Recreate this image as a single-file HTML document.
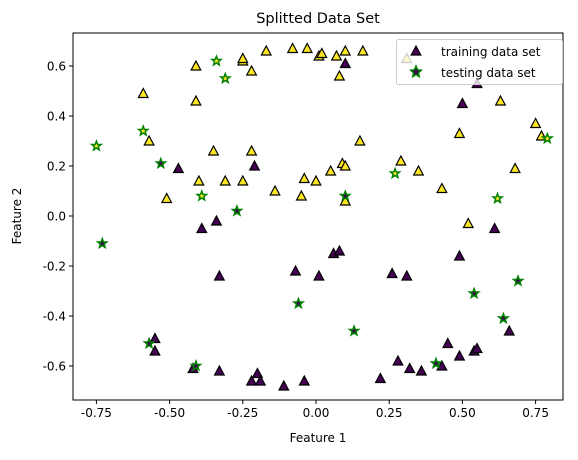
<!DOCTYPE html>
<html><head><meta charset="utf-8"><style>
body{margin:0;background:#fff;font-family:"Liberation Sans","DejaVu Sans",sans-serif}
svg text{font-family:"DejaVu Sans","Liberation Sans",sans-serif}
</style></head><body>
<svg id="c" width="578" height="455"></svg>
<script>
const trainX1=[-0.41,-0.59,-0.41,-0.57,-0.35,-0.22,-0.40,-0.31,-0.25,-0.51,-0.14,-0.05,-0.04,0.00,-0.25,-0.25,-0.22,-0.17,-0.08,-0.03,0.01,0.02,0.07,0.10,0.16,0.08,0.15,0.09,0.10,0.05,0.29,0.35,0.43,0.49,0.63,0.75,0.77,0.68,0.10,0.31,0.52];
const trainY1=[0.60,0.49,0.46,0.30,0.26,0.26,0.14,0.14,0.14,0.07,0.10,0.08,0.15,0.14,0.62,0.63,0.58,0.66,0.67,0.67,0.64,0.65,0.64,0.66,0.66,0.56,0.30,0.21,0.20,0.18,0.22,0.18,0.11,0.33,0.46,0.37,0.32,0.19,0.06,0.63,-0.03];
const trainX0=[-0.47,-0.21,0.10,0.50,0.55,-0.39,-0.34,-0.33,-0.07,0.01,-0.55,-0.55,-0.42,-0.33,-0.20,-0.22,-0.19,-0.11,-0.04,0.61,0.06,0.08,0.26,0.31,0.49,0.66,0.45,0.49,0.54,0.55,0.28,0.32,0.36,0.43,0.22];
const trainY0=[0.19,0.20,0.61,0.45,0.53,-0.05,-0.02,-0.24,-0.22,-0.24,-0.49,-0.54,-0.61,-0.62,-0.63,-0.66,-0.66,-0.68,-0.66,-0.05,-0.15,-0.14,-0.23,-0.24,-0.16,-0.46,-0.51,-0.56,-0.54,-0.53,-0.58,-0.61,-0.62,-0.60,-0.65];
const testX=[-0.75,-0.59,-0.53,-0.39,-0.34,-0.31,-0.27,0.27,0.10,0.62,0.79,-0.73,-0.06,-0.57,-0.41,0.13,0.54,0.69,0.64,0.41];
const testY=[0.28,0.34,0.21,0.08,0.62,0.55,0.02,0.17,0.08,0.07,0.31,-0.11,-0.35,-0.51,-0.60,-0.46,-0.31,-0.26,-0.41,-0.59];
const testCls=[1,1,0,1,1,1,0,1,0,1,1,0,0,0,0,0,0,0,0,0];
const xTicks=[-0.75,-0.50,-0.25,0.00,0.25,0.50,0.75];
const yTicks=[-0.6,-0.4,-0.2,0.0,0.2,0.4,0.6];
const L=73,R=563,T=33,B=400;
const sx=v=>316+v*292.8, sy=v=>216-v*250;
const svg=document.getElementById('c');const NS='http://www.w3.org/2000/svg';
function el(t,a,p){const e=document.createElementNS(NS,t);for(const k in a)e.setAttribute(k,a[k]);(p||svg).appendChild(e);return e;}
const tri=(x,y)=>`${x},${y-5} ${x-4.8},${y+4} ${x+4.8},${y+4}`;
function star(x,y,r){let p=[];for(let i=0;i<10;i++){const a=-Math.PI/2+i*Math.PI/5,rr=i%2?r*0.42:r;p.push((x+rr*Math.cos(a)).toFixed(1)+','+(y+rr*Math.sin(a)).toFixed(1));}return p.join(' ');}
const PUR='#440154',YEL='#fde725';
for(let i=0;i<trainX0.length;i++){const e=el('polygon',{points:tri(sx(trainX0[i]),sy(trainY0[i])),fill:PUR,stroke:'#000','stroke-width':1.2});
}
for(let i=0;i<trainX1.length;i++){const e=el('polygon',{points:tri(sx(trainX1[i]),sy(trainY1[i])),fill:YEL,stroke:'#000','stroke-width':1.2});
}
for(let i=0;i<testX.length;i++){const e=el('polygon',{points:star(sx(testX[i]),sy(testY[i]),4.8),fill:testCls[i]?YEL:PUR,stroke:'#008000','stroke-width':1.5});
}
const fr=el('rect',{x:L,y:T,width:R-L,height:B-T,fill:'none',stroke:'#000','stroke-width':1});

xTicks.forEach(v=>{const x=sx(v);el('line',{x1:x,x2:x,y1:B,y2:B+4,stroke:'#000'});
const t=el('text',{x:x,y:B+17,'text-anchor':'middle','font-size':12});t.textContent=v.toFixed(2);
});
yTicks.forEach(v=>{const y=sy(v);el('line',{x1:L-4,x2:L,y1:y,y2:y,stroke:'#000'});
const t=el('text',{x:L-7,y:y+4.5,'text-anchor':'end','font-size':12});t.textContent=v.toFixed(1);
});
</script>
<svg style="position:absolute;left:0;top:0" width="578" height="455">
<text x="318" y="23" text-anchor="middle" font-size="14.5" font-family="DejaVu Sans,sans-serif">Splitted Data Set</text>
<text x="318" y="442" text-anchor="middle" font-size="12" font-family="DejaVu Sans,sans-serif">Feature 1</text>
<text transform="translate(21,216) rotate(-90)" text-anchor="middle" font-size="12" font-family="DejaVu Sans,sans-serif">Feature 2</text>
<g>
<rect x="396.5" y="39.5" width="166" height="45" rx="2" fill="#fff" fill-opacity="0.8" stroke="#ccc"/>
<polygon points="416,46 411.2,55 420.8,55" fill="#440154" stroke="#000" stroke-width="1.2"/>
<text x="441" y="56" font-size="12" font-family="DejaVu Sans,sans-serif">training data set</text>
<polygon points="416,66 417.5,69.8 421.2,70.3 418.4,72.8 419.2,76.6 416,74.6 412.8,76.6 413.6,72.8 410.8,70.3 414.5,69.8" fill="#440154" stroke="#008000" stroke-width="1.5"/>
<text x="441" y="77" font-size="12" font-family="DejaVu Sans,sans-serif">testing data set</text>
</g>
</svg>
</body></html>
